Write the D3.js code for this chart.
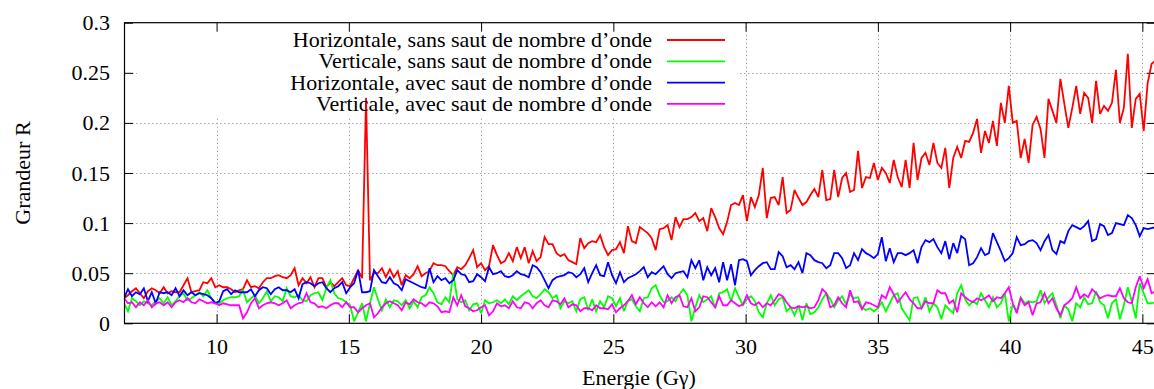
<!DOCTYPE html>
<html>
<head>
<meta charset="utf-8">
<script src="https://cdn.jsdelivr.net/npm/d3@7"></script>
<style>
  html, body { margin: 0; padding: 0; background: #fff; }
  svg { display: block; }
  svg text { font-family: "Liberation Serif", "Times New Roman", serif; font-size: 22px; fill: #000; }
</style>
</head>
<body>
<svg id="chart" width="1154" height="389"></svg>
<script>
// Energy scan: regular sampling grid (GeV)
const energyStart = 6.5;
const energyStep = 0.15;

const xTicks = [10, 15, 20, 25, 30, 35, 40, 45];
const yTicks = [0, 0.05, 0.1, 0.15, 0.2, 0.25, 0.3];
const yTickLabels = ["0", "0.05", "0.1", "0.15", "0.2", "0.25", "0.3"];

const seriesNames = [
  "Horizontale, sans saut de nombre d\u2019onde",
  "Verticale, sans saut de nombre d\u2019onde",
  "Horizontale, avec saut de nombre d\u2019onde",
  "Verticale, avec saut de nombre d\u2019onde"
];
const seriesColors = ["#ff0000", "#00ff00", "#0000ff", "#ff00ff"];

// Grandeur R, horizontal plane, no tune jump
const horizSansSaut = [
  .025,.028,.032,.035,.030,.025,.032,.035,.033,.030,
  .036,.030,.032,.031,.031,.038,.045,.031,.032,.033,
  .041,.040,.045,.036,.038,.036,.036,.034,.031,.033,
  .034,.043,.036,.037,.035,.041,.045,.045,.047,.048,
  .046,.045,.048,.055,.038,.045,.040,.046,.036,.045,
  .045,.036,.041,.037,.041,.045,.038,.037,.045,.053,
  .045,.225,.043,.050,.050,.055,.046,.054,.046,.052,
  .038,.048,.045,.049,.057,.047,.050,.052,.060,.058,
  .058,.057,.052,.048,.056,.054,.058,.065,.073,.056,
  .060,.053,.057,.078,.068,.060,.062,.070,.062,.076,
  .065,.076,.060,.072,.062,.066,.086,.079,.079,.070,
  .067,.069,.063,.061,.059,.085,.075,.080,.082,.081,
  .088,.076,.068,.073,.074,.081,.070,.097,.082,.080,
  .096,.093,.090,.085,.073,.094,.095,.098,.083,.106,
  .096,.104,.104,.106,.110,.102,.105,.092,.115,.106,
  .095,.089,.101,.118,.120,.118,.128,.102,.126,.116,
  .128,.155,.105,.125,.126,.118,.146,.110,.113,.133,
  .125,.118,.121,.128,.134,.126,.153,.123,.124,.153,
  .126,.145,.150,.131,.133,.172,.135,.146,.145,.160,
  .143,.155,.150,.140,.163,.146,.136,.163,.135,.180,
  .143,.165,.170,.158,.180,.160,.155,.175,.135,.165,
  .176,.165,.182,.181,.190,.204,.170,.192,.180,.202,
  .177,.220,.200,.237,.200,.202,.165,.184,.160,.198,
  .206,.194,.165,.224,.212,.200,.244,.219,.195,.215,
  .237,.209,.230,.225,.200,.242,.209,.217,.212,.220,
  .253,.200,.215,.269,.195,.224,.229,.192,.240,.259,
  .262
];

// Grandeur R, vertical plane, no tune jump
const vertSansSaut = [
  .020,.012,.025,.022,.018,.022,.020,.018,.022,.025,
  .020,.026,.018,.022,.027,.030,.023,.025,.028,.031,
  .027,.033,.025,.021,.020,.023,.025,.026,.026,.027,
  .033,.021,.025,.028,.020,.025,.032,.022,.027,.026,
  .022,.035,.027,.026,.028,.023,.022,.028,.030,.031,
  .023,.035,.043,.030,.025,.024,.021,.018,.002,.011,
  .020,.002,.020,.036,.024,.013,.024,.016,.023,.022,
  .018,.023,.015,.022,.016,.026,.028,.036,.030,.021,
  .019,.026,.021,.050,.024,.021,.023,.013,.019,.020,
  .010,.023,.020,.021,.023,.020,.024,.019,.027,.023,
  .027,.030,.033,.027,.025,.029,.034,.031,.025,.028,
  .015,.022,.020,.022,.012,.024,.026,.013,.024,.012,
  .022,.016,.027,.025,.017,.025,.012,.022,.024,.017,
  .012,.025,.026,.035,.038,.028,.021,.022,.026,.022,
  .029,.034,.028,.002,.016,.028,.021,.024,.027,.015,
  .030,.031,.034,.022,.035,.026,.018,.024,.027,.022,
  .011,.006,.020,.028,.018,.024,.026,.012,.016,.008,
  .018,.003,.020,.009,.011,.016,.024,.030,.024,.016,
  .023,.027,.019,.029,.025,.026,.016,.013,.015,.012,
  .015,.021,.012,.020,.028,.030,.015,.009,.003,.025,
  .026,.015,.026,.012,.020,.016,.004,.018,.014,.010,
  .030,.038,.024,.018,.022,.019,.030,.023,.016,.026,
  .016,.020,.030,.002,.019,.012,.026,.020,.022,.021,
  .022,.033,.020,.026,.030,.018,.005,.018,.014,.002,
  .020,.016,.026,.019,.020,.032,.021,.018,.005,.020,
  .024,.004,.018,.036,.022,.005,.040,.030,.020,.020,
  .021
];

// Grandeur R, horizontal plane, with tune jump
const horizAvecSaut = [
  .025,.034,.027,.031,.029,.035,.022,.031,.020,.031,
  .030,.031,.028,.035,.027,.033,.028,.031,.028,.030,
  .029,.028,.025,.020,.022,.032,.034,.029,.033,.031,
  .031,.031,.034,.027,.033,.036,.035,.029,.034,.036,
  .033,.033,.031,.034,.025,.039,.041,.040,.037,.040,
  .041,.035,.031,.035,.037,.041,.030,.036,.040,.053,
  .031,.031,.032,.053,.047,.041,.040,.046,.040,.038,
  .033,.044,.042,.040,.038,.036,.035,.055,.041,.047,
  .043,.045,.040,.043,.053,.049,.048,.041,.042,.049,
  .046,.042,.056,.049,.050,.052,.047,.046,.048,.052,
  .049,.048,.046,.058,.056,.051,.043,.035,.043,.046,
  .047,.048,.051,.050,.046,.049,.055,.041,.050,.058,
  .048,.047,.061,.048,.040,.051,.041,.045,.047,.049,
  .052,.056,.046,.051,.049,.053,.057,.049,.045,.050,
  .051,.052,.046,.063,.055,.063,.043,.056,.048,.055,
  .041,.061,.043,.059,.038,.063,.064,.062,.048,.053,
  .057,.060,.061,.054,.054,.071,.067,.056,.058,.054,
  .061,.050,.070,.068,.063,.061,.060,.055,.058,.070,
  .070,.065,.055,.058,.070,.063,.074,.070,.068,.065,
  .069,.086,.062,.075,.061,.070,.070,.068,.070,.073,
  .060,.076,.083,.081,.084,.076,.070,.082,.064,.080,
  .070,.087,.084,.058,.060,.066,.075,.068,.070,.090,
  .081,.072,.062,.065,.070,.086,.078,.079,.082,.083,
  .080,.073,.082,.088,.073,.069,.082,.080,.092,.098,
  .096,.094,.097,.102,.082,.084,.099,.097,.088,.090,
  .100,.099,.098,.108,.105,.098,.087,.095,.094,.095,
  .096
];

// Grandeur R, vertical plane, with tune jump
const vertAvecSaut = [
  .025,.020,.021,.016,.021,.018,.023,.016,.020,.021,
  .018,.021,.016,.021,.023,.021,.025,.021,.020,.024,
  .022,.020,.021,.020,.018,.020,.019,.018,.018,.018,
  .005,.011,.020,.025,.015,.018,.020,.021,.020,.018,
  .020,.023,.015,.018,.020,.021,.030,.021,.020,.016,
  .017,.015,.018,.020,.020,.016,.021,.016,.016,.011,
  .015,.018,.020,.006,.010,.016,.020,.022,.020,.018,
  .013,.021,.019,.024,.021,.020,.017,.021,.020,.017,
  .011,.012,.011,.026,.018,.028,.017,.015,.012,.013,
  .016,.018,.008,.012,.020,.017,.018,.015,.022,.016,
  .015,.021,.020,.015,.020,.023,.018,.016,.023,.022,
  .019,.025,.016,.019,.018,.012,.015,.015,.013,.018,
  .015,.015,.014,.019,.011,.015,.018,.022,.028,.019,
  .026,.020,.016,.021,.017,.021,.016,.028,.020,.026,
  .028,.017,.016,.025,.012,.016,.027,.026,.021,.016,
  .027,.018,.018,.023,.020,.017,.019,.028,.020,.018,
  .021,.016,.020,.018,.023,.029,.027,.021,.016,.015,
  .017,.016,.017,.015,.016,.023,.034,.030,.016,.018,
  .026,.020,.016,.033,.021,.022,.014,.021,.020,.018,
  .016,.028,.025,.036,.029,.021,.026,.031,.024,.020,
  .015,.015,.022,.020,.020,.033,.030,.030,.020,.023,
  .011,.030,.026,.023,.021,.025,.023,.025,.028,.022,
  .026,.025,.030,.036,.020,.010,.025,.018,.021,.008,
  .020,.021,.030,.020,.025,.015,.008,.018,.021,.025,
  .036,.025,.029,.026,.034,.030,.025,.027,.028,.027,
  .027,.035,.025,.021,.020,.036,.047,.035,.044,.030,
  .032
];

const seriesValues = [horizSansSaut, vertSansSaut, horizAvecSaut, vertAvecSaut];

// ---- layout ----
const plot = { left: 124, right: 1155.6, top: 22.7, bottom: 323.3 };

const svg = d3.select("#chart");

const x = d3.scaleLinear().domain([6.5, 45.5]).range([plot.left, plot.right]);
const y = d3.scaleLinear().domain([0, 0.3]).range([plot.bottom, plot.top]);

// dotted grid
const grid = svg.append("g").attr("stroke", "#a8a8a8").attr("stroke-width", 1)
  .attr("stroke-dasharray", "1.5,2.5").attr("fill", "none");
grid.selectAll("line.gx").data(xTicks).join("line").attr("class", "gx")
  .attr("x1", d => Math.round(x(d)) + 0.5).attr("x2", d => Math.round(x(d)) + 0.5)
  .attr("y1", plot.top).attr("y2", plot.bottom);
grid.selectAll("line.gy").data(yTicks.filter(d => d > 0 && d < 0.3)).join("line").attr("class", "gy")
  .attr("y1", d => Math.round(y(d)) + 0.5).attr("y2", d => Math.round(y(d)) + 0.5)
  .attr("x1", plot.left).attr("x2", plot.right);

// key area is kept clear of the grid
const keyBox = { x0: 137, x1: 737, y0: plot.top, y1: 117 };
svg.append("rect")
  .attr("x", keyBox.x0).attr("y", keyBox.y0)
  .attr("width", keyBox.x1 - keyBox.x0).attr("height", keyBox.y1 - keyBox.y0)
  .attr("fill", "#fff");

// axes (ticks pointing inward)
function styleAxis(g) {
  g.attr("font-family", null).attr("font-size", null);
  g.select(".domain").remove();
  g.selectAll(".tick line").attr("stroke", "#000").attr("stroke-width", 1);
  g.selectAll(".tick text").attr("fill", "#000");
}

svg.append("g").attr("transform", `translate(0,${plot.bottom})`)
  .call(d3.axisBottom(x).tickValues(xTicks).tickSize(-9).tickPadding(15).tickFormat(d3.format("d")))
  .call(styleAxis);
svg.append("g").attr("transform", `translate(0,${plot.top})`)
  .call(d3.axisTop(x).tickValues(xTicks).tickSize(-9).tickFormat(""))
  .call(styleAxis);
svg.append("g").attr("transform", `translate(${plot.left},0)`)
  .call(d3.axisLeft(y).tickValues(yTicks).tickSize(-9).tickPadding(14)
    .tickFormat((d, i) => yTickLabels[i]))
  .call(styleAxis);
svg.append("g").attr("transform", `translate(${plot.right},0)`)
  .call(d3.axisRight(y).tickValues(yTicks).tickSize(-9).tickFormat(""))
  .call(styleAxis);

// data curves
svg.append("clipPath").attr("id", "plotClip").append("rect")
  .attr("x", plot.left).attr("y", plot.top)
  .attr("width", plot.right - plot.left).attr("height", plot.bottom - plot.top);

const line = d3.line()
  .x((d, i) => x(energyStart + energyStep * i))
  .y(d => y(d));

const curves = svg.append("g").attr("clip-path", "url(#plotClip)");
seriesValues.forEach((vals, k) => {
  curves.append("path")
    .datum(vals)
    .attr("d", line)
    .attr("fill", "none")
    .attr("stroke", seriesColors[k])
    .attr("stroke-width", 1.8)
    .attr("stroke-linejoin", "miter")
    .attr("stroke-miterlimit", 3);
});

// plot border
svg.append("rect")
  .attr("x", plot.left + 0.5).attr("y", plot.top)
  .attr("width", plot.right - plot.left).attr("height", plot.bottom - plot.top)
  .attr("fill", "none").attr("stroke", "#000").attr("stroke-width", 1.2);

// key
const keyTextRight = 652;
const keyLine = { x0: 667, x1: 725 };
const keyBaseline0 = 47;
const keyStep = 21.3;
const key = svg.append("g");
seriesNames.forEach((name, k) => {
  const by = keyBaseline0 + k * keyStep;
  key.append("text")
    .attr("x", keyTextRight).attr("y", by)
    .attr("text-anchor", "end")
    .text(name);
  key.append("line")
    .attr("x1", keyLine.x0).attr("x2", keyLine.x1)
    .attr("y1", by - 7).attr("y2", by - 7)
    .attr("stroke", seriesColors[k]).attr("stroke-width", 1.8);
});

// axis titles
svg.append("text")
  .attr("transform", "translate(30,173) rotate(-90)")
  .attr("text-anchor", "middle")
  .text("Grandeur R");
svg.append("text")
  .attr("x", 639).attr("y", 385)
  .attr("text-anchor", "middle")
  .text("Energie (G\u03b3)");
</script>
</body>
</html>
